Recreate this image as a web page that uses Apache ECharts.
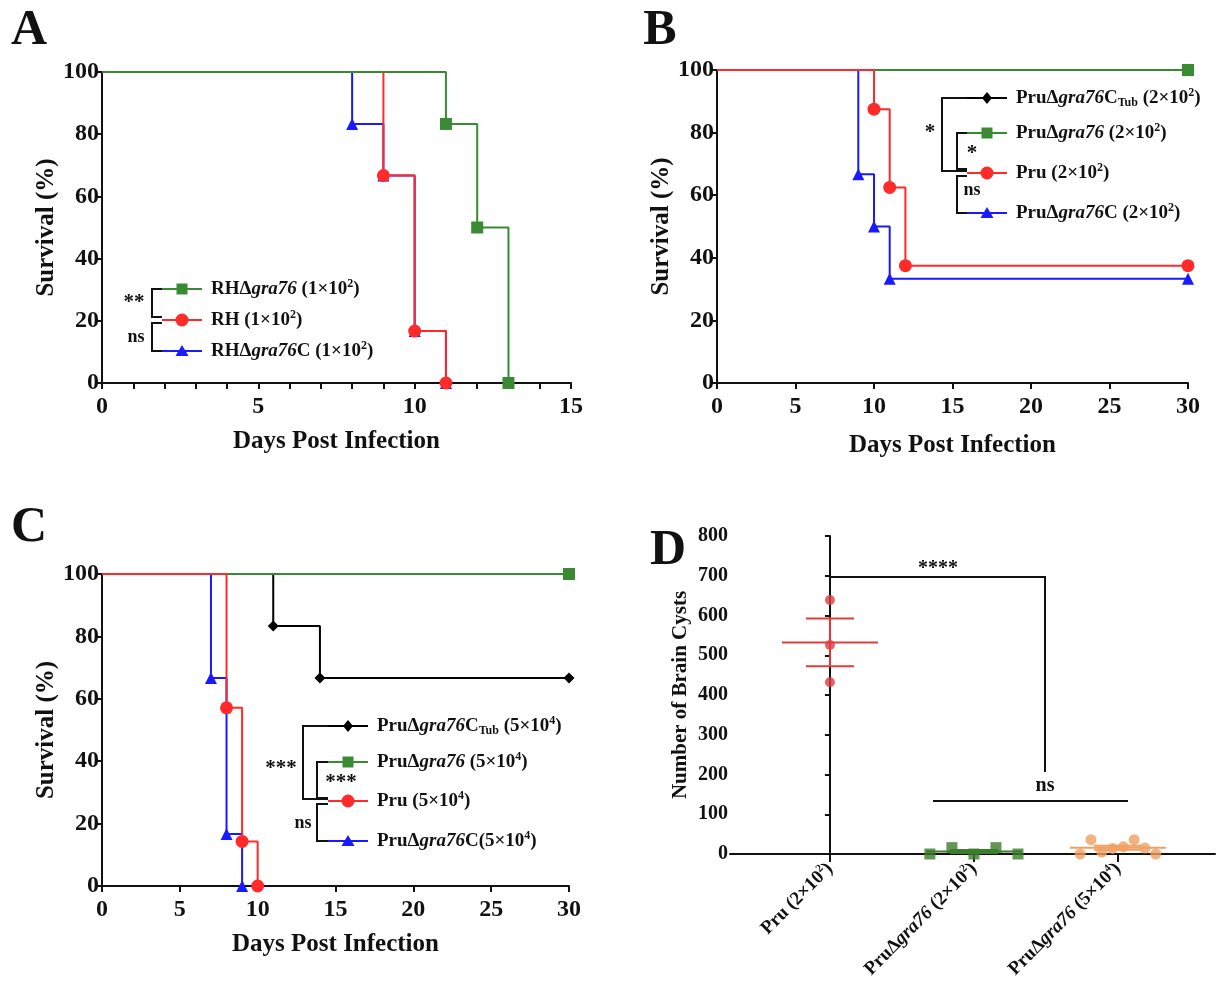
<!DOCTYPE html>
<html><head><meta charset="utf-8">
<script src="https://cdn.jsdelivr.net/npm/echarts@6/dist/echarts.min.js"></script>
<style>html,body{margin:0;padding:0;background:#fff}#c{width:1220px;height:992px}</style>
</head><body><div id="c"></div>
<script>
// ---------- DATA ----------
// Panel A (days, survival %)
const aRHdelta = [[0,100],[11,83.3],[12,50],[13,0]];
const aRH      = [[0,100],[9,66.7],[10,16.7],[11,0]];
const aRHdeltaC= [[0,100],[8,83.3],[9,66.7],[10,16.7],[11,0]];
// Panel B
const bTub    = [[0,100],[30,100]];
const bDelta  = [[0,100],[30,100]];
const bPru    = [[0,100],[10,87.5],[11,62.5],[12,37.5],[30,37.5]];
const bDeltaC = [[0,100],[9,66.7],[10,50],[11,33.3],[30,33.3]];
// Panel C
const cTub    = [[0,100],[11,83.3],[14,66.7],[30,66.7]];
const cDelta  = [[0,100],[30,100]];
const cPru    = [[0,100],[8,57.1],[9,14.3],[10,0]];
const cDeltaC = [[0,100],[7,66.7],[8,16.7],[9,0]];
// Panel D (brain cysts)
const dCategories = ['Pru (2×10{s|2})','Pru{n|Δ}{i|gra76} (2×10{s|2})','Pru{n|Δ}{i|gra76} (5×10{s|4})'];
const dPru     = [639, 526, 432];
const dDelta2  = [0, 16, 0, 16, 0];
const dDelta5  = [0, 36, 5, 14, 18, 36, 15, 0];

// ---------- STYLE ----------
const FONT = 'Liberation Serif';
const INK = '#111';
const GREEN = '#3a8a34', RED = '#ff2b2b', BLUE = '#1a1aff', BLACK = '#000';
const D_RED = '#e03c3c', D_GREEN = '#3b7d2c', D_ORANGE = '#f0a060';

function kmSeries(name, data, color, symbol, size, gi) {
  return {
    type: 'line', name, xAxisIndex: gi, yAxisIndex: gi, step: 'end',
    data: data.map((p, i) => i === 0 ? {value: p, symbol: 'none'} : {value: p}),
    symbol, symbolSize: size, showAllSymbol: true,
    lineStyle: {color, width: 2}, itemStyle: {color},
    animation: false, z: 3
  };
}
function survX(gi, max, interval, labelEvery, gap) {
  return {
    type: 'value', gridIndex: gi, min: 0, max, interval,
    name: 'Days Post Infection', nameLocation: 'middle', nameGap: gap,
    nameTextStyle: {fontSize: 25, fontWeight: 'bold', color: INK, fontFamily: FONT},
    axisLine: {show: true, onZero: false, lineStyle: {color: INK, width: 2}},
    axisTick: {show: true, length: 6, lineStyle: {color: INK, width: 2}},
    axisLabel: {fontSize: 24, fontWeight: 'bold', color: INK, fontFamily: FONT, margin: 12,
      formatter: v => (v % labelEvery === 0 ? String(v) : '')},
    splitLine: {show: false}
  };
}
function survY(gi, gap) {
  return {
    type: 'value', gridIndex: gi, min: 0, max: 100, interval: 20,
    name: 'Survival (%)', nameLocation: 'middle', nameGap: gap,
    nameTextStyle: {fontSize: 25, fontWeight: 'bold', color: INK, fontFamily: FONT},
    axisLine: {show: true, lineStyle: {color: INK, width: 2}},
    axisTick: {show: true, length: 6, lineStyle: {color: INK, width: 2}},
    axisLabel: {fontSize: 24, fontWeight: 'bold', color: INK, fontFamily: FONT, margin: 3},
    splitLine: {show: false}
  };
}

const rich = {
  b: {fontFamily: FONT, fontWeight: 'bold', fontSize: 19, color: INK, lineHeight: 22},
  i: {fontFamily: FONT, fontWeight: 'bold', fontStyle: 'italic', fontSize: 19, color: INK, lineHeight: 22},
  sup: {fontFamily: FONT, fontWeight: 'bold', fontSize: 12, color: INK, lineHeight: 22, verticalAlign: 'top'},
  sub: {fontFamily: FONT, fontWeight: 'bold', fontSize: 12, color: INK, lineHeight: 22, verticalAlign: 'bottom'}
};

const graphics = [];
function txt(x, y, text, size, extra) {
  graphics.push({type: 'text', x, y, z: 10,
    style: Object.assign({text, x: 0, y: 0, fill: INK, font: 'bold ' + size + 'px "' + FONT + '"',
      align: 'center', verticalAlign: 'middle'}, extra || {})});
}
function poly(points, color, w) {
  graphics.push({type: 'polyline', z: 10, shape: {points}, style: {stroke: color || INK, lineWidth: w || 2, fill: null}});
}
function marker(sym, cx, cy, color) {
  if (sym === 'rect') graphics.push({type: 'rect', z: 11, shape: {x: cx - 5.5, y: cy - 5.5, width: 11, height: 11}, style: {fill: color}});
  if (sym === 'circle') graphics.push({type: 'circle', z: 11, shape: {cx, cy, r: 6.5}, style: {fill: color}});
  if (sym === 'triangle') graphics.push({type: 'polygon', z: 11, shape: {points: [[cx, cy - 6], [cx + 6.5, cy + 5], [cx - 6.5, cy + 5]]}, style: {fill: color}});
  if (sym === 'diamond') graphics.push({type: 'polygon', z: 11, shape: {points: [[cx, cy - 6], [cx + 5, cy], [cx, cy + 6], [cx - 5, cy]]}, style: {fill: color}});
}
function legendRow(x0, y, color, sym, label) {
  poly([[x0, y], [x0 + 40, y]], color, 2);
  marker(sym, x0 + 20, y, color);
  graphics.push({type: 'text', z: 10, x: x0 + 49, y,
    style: {text: label, rich, x: 0, y: 0, align: 'left', verticalAlign: 'middle', fill: INK}});
}

// Panel letters
txt(29, 31, 'A', 50); txt(660, 31, 'B', 50); txt(29, 528, 'C', 50); txt(668, 551, 'D', 50);

// Legend A
legendRow(162, 289, GREEN, 'rect', '{b|RHΔ}{i|gra76}{b| (1×10}{sup|2}{b|)}');
legendRow(162, 320, RED, 'circle', '{b|RH (1×10}{sup|2}{b|)}');
legendRow(162, 351, BLUE, 'triangle', '{b|RHΔ}{i|gra76}{b|C (1×10}{sup|2}{b|)}');
poly([[162, 289], [152, 289], [152, 317], [162, 317]]);
poly([[162, 323], [152, 323], [152, 351], [162, 351]]);
txt(134, 303, '**', 21); txt(136, 337, 'ns', 18);

// Legend B
legendRow(967, 98, BLACK, 'diamond', '{b|PruΔ}{i|gra76}{b|C}{sub|Tub}{b| (2×10}{sup|2}{b|)}');
legendRow(967, 133, GREEN, 'rect', '{b|PruΔ}{i|gra76}{b| (2×10}{sup|2}{b|)}');
legendRow(967, 173, RED, 'circle', '{b|Pru (2×10}{sup|2}{b|)}');
legendRow(967, 213, BLUE, 'triangle', '{b|PruΔ}{i|gra76}{b|C (2×10}{sup|2}{b|)}');
poly([[967, 98], [942, 98], [942, 171], [967, 171]]);
poly([[967, 133], [957, 133], [957, 169], [967, 169]]);
poly([[967, 176], [957, 176], [957, 213], [967, 213]]);
txt(930, 133, '*', 21); txt(972, 154, '*', 21); txt(972, 190, 'ns', 18);

// Legend C
legendRow(328, 726, BLACK, 'diamond', '{b|PruΔ}{i|gra76}{b|C}{sub|Tub}{b| (5×10}{sup|4}{b|)}');
legendRow(328, 762, GREEN, 'rect', '{b|PruΔ}{i|gra76}{b| (5×10}{sup|4}{b|)}');
legendRow(328, 801, RED, 'circle', '{b|Pru (5×10}{sup|4}{b|)}');
legendRow(328, 841, BLUE, 'triangle', '{b|PruΔ}{i|gra76}{b|C(5×10}{sup|4}{b|)}');
poly([[328, 726], [303, 726], [303, 799], [328, 799]]);
poly([[328, 762], [317, 762], [317, 798], [328, 798]]);
poly([[328, 804], [317, 804], [317, 841], [328, 841]]);
txt(281, 769, '***', 21); txt(341, 783, '***', 21); txt(303, 823, 'ns', 18);

// Panel D annotations
poly([[830, 590], [830, 577], [1045, 577], [1045, 772]]);
txt(938, 569, '****', 20);
poly([[933, 801], [1128, 801]]);
txt(1045, 786, 'ns', 20);

// ---------- PANEL D helpers ----------
const dGroups = [dPru, dDelta2, dDelta5];
const dJitter = [0, 0.153, 0.075];      // horizontal spread of dots (layout only)
function dots(vals, g) {
  const n = vals.length;
  return vals.map((v, i) => [g + (i - (n - 1) / 2) * dJitter[g], v]);
}
function meanSem(vals) {
  const n = vals.length, m = vals.reduce((a, b) => a + b, 0) / n;
  const sd = Math.sqrt(vals.reduce((a, b) => a + (b - m) * (b - m), 0) / (n - 1));
  return [m, sd / Math.sqrt(n)];
}
const dStats = dGroups.map((vals, g) => { const ms = meanSem(vals); return [g, ms[0], ms[1]]; });
const dColors = [D_RED, D_GREEN, D_ORANGE];

const option = {
  animation: false,
  textStyle: {fontFamily: FONT},
  grid: [
    {left: 102, top: 72, width: 469, height: 311, outerBoundsMode: 'none'},
    {left: 717, top: 70, width: 471, height: 313, outerBoundsMode: 'none'},
    {left: 102, top: 574, width: 467, height: 312, outerBoundsMode: 'none'},
    {left: 730, top: 536, width: 485, height: 318, outerBoundsMode: 'none'}
  ],
  xAxis: [
    survX(0, 15, 1, 5, 46),
    survX(1, 30, 5, 5, 50),
    survX(2, 30, 5, 5, 46),
    {
      type: 'value', gridIndex: 3, min: -0.694, max: 2.674,
      axisLine: {show: true, onZero: false, lineStyle: {color: INK, width: 2}},
      axisTick: {show: true, length: 8, customValues: [0, 1, 2], lineStyle: {color: INK, width: 2}},
      axisLabel: {show: true, customValues: [0, 1, 2], rotate: 45, margin: 12,
        fontFamily: FONT, fontWeight: 'bold', fontSize: 19, color: INK,
        formatter: v => dCategories[Math.round(v)] || '',
        rich: {
          s: {fontFamily: FONT, fontWeight: 'bold', fontSize: 11, color: INK, verticalAlign: 'top', lineHeight: 22},
          n: {fontFamily: FONT, fontWeight: 'bold', fontSize: 19, color: INK, lineHeight: 22},
          i: {fontFamily: FONT, fontWeight: 'bold', fontStyle: 'italic', fontSize: 19, color: INK, lineHeight: 22}
        }},
      splitLine: {show: false}
    }
  ],
  yAxis: [
    survY(0, 40), survY(1, 41), survY(2, 40),
    {
      type: 'value', gridIndex: 3, min: 0, max: 800, interval: 100,
      name: 'Number of Brain Cysts', nameLocation: 'middle', nameGap: 39,
      nameTextStyle: {fontSize: 21, fontWeight: 'bold', color: INK, fontFamily: FONT},
      axisLine: {show: true, lineStyle: {color: INK, width: 2}},
      axisTick: {show: true, length: 5, lineStyle: {color: INK, width: 2}},
      axisLabel: {fontSize: 20, fontWeight: 'bold', color: INK, fontFamily: FONT, margin: 2},
      splitLine: {show: false}
    }
  ],
  series: [
    // A (green drawn on top)
    kmSeries('RHΔgra76C', aRHdeltaC, BLUE, 'triangle', 12, 0),
    kmSeries('RH', aRH, RED, 'circle', 13, 0),
    kmSeries('RHΔgra76', aRHdelta, GREEN, 'rect', 12, 0),
    // B
    kmSeries('PruΔgra76C_Tub', bTub, BLACK, 'diamond', 11, 1),
    kmSeries('PruΔgra76', bDelta, GREEN, 'rect', 12, 1),
    kmSeries('PruΔgra76C', bDeltaC, BLUE, 'triangle', 12, 1),
    kmSeries('Pru', bPru, RED, 'circle', 13, 1),
    // C
    kmSeries('PruΔgra76C_Tub', cTub, BLACK, 'diamond', 11, 2),
    kmSeries('PruΔgra76', cDelta, GREEN, 'rect', 12, 2),
    kmSeries('PruΔgra76C', cDeltaC, BLUE, 'triangle', 12, 2),
    kmSeries('Pru', cPru, RED, 'circle', 13, 2),
    // D dots
    {type: 'scatter', xAxisIndex: 3, yAxisIndex: 3, data: dots(dPru, 0), symbol: 'circle', symbolSize: 10, itemStyle: {color: D_RED}, z: 3},
    {type: 'scatter', xAxisIndex: 3, yAxisIndex: 3, data: dots(dDelta2, 1), symbol: 'rect', symbolSize: 11, itemStyle: {color: D_GREEN}, z: 3},
    {type: 'scatter', xAxisIndex: 3, yAxisIndex: 3, data: dots(dDelta5, 2), symbol: 'circle', symbolSize: 11, itemStyle: {color: D_ORANGE}, z: 3},
    // D mean ± SEM
    {
      type: 'custom', xAxisIndex: 3, yAxisIndex: 3, data: dStats, z: 4,
      renderItem: (params, api) => {
        const g = api.value(0), m = api.value(1), s = api.value(2);
        const c = api.coord([g, m]), t = api.coord([g, m + s]), b = api.coord([g, m - s]);
        const col = dColors[params.dataIndex];
        const st = {stroke: col, lineWidth: 2};
        return {type: 'group', children: [
          {type: 'line', shape: {x1: c[0] - 48, y1: c[1], x2: c[0] + 48, y2: c[1]}, style: st},
          {type: 'line', shape: {x1: t[0], y1: t[1], x2: b[0], y2: b[1]}, style: st},
          {type: 'line', shape: {x1: t[0] - 24, y1: t[1], x2: t[0] + 24, y2: t[1]}, style: st},
          {type: 'line', shape: {x1: b[0] - 24, y1: b[1], x2: b[0] + 24, y2: b[1]}, style: st}
        ]};
      }
    }
  ],
  graphic: graphics
};

const chart = echarts.init(document.getElementById('c'), null, {renderer: 'canvas'});
chart.setOption(option);
</script>
</body></html>
